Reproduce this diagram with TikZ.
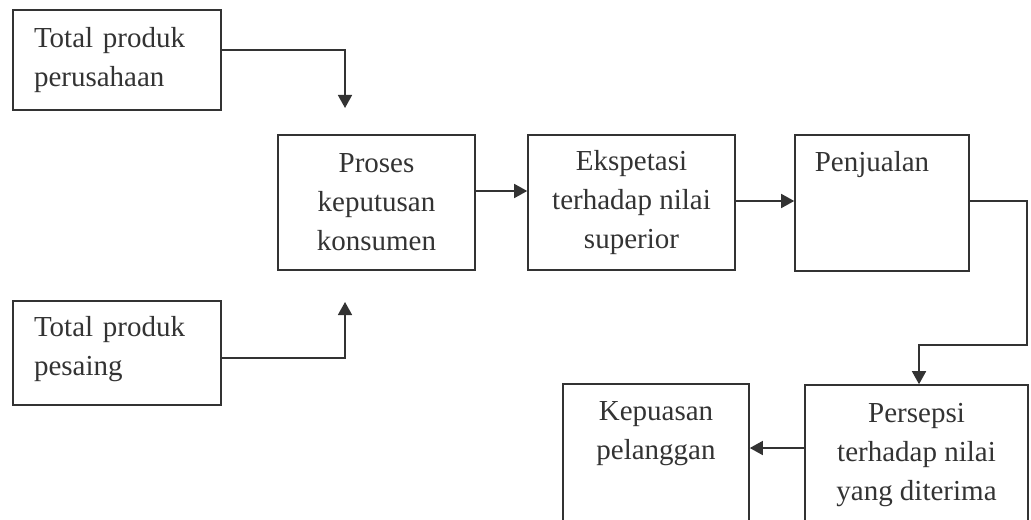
\documentclass[tikz,border=0pt]{standalone}
\usepackage{fontspec}
\setmainfont{Liberation Serif}
\usetikzlibrary{arrows.meta,calc}
\definecolor{ink}{HTML}{333333}
\begin{document}
\begin{tikzpicture}[x=0.5pt,y=-0.5pt,
  box/.style={draw=ink,line width=0.8pt,rectangle,inner sep=0pt},
  lbl/.style={text=ink,align=center,inner sep=0pt,font=\fontsize{14.5}{19.5}\selectfont},
  lbll/.style={lbl,align=left,text width=83pt},
  conn/.style={draw=ink,line width=0.8pt},
  arr/.style={conn,-{Triangle[length=6.5pt,width=7pt]}}]
\useasboundingbox (0,0) rectangle (1031,519);
\clip (0,0) rectangle (1031,519);
% boxes
\node[box,minimum width=104pt,minimum height=50pt] (tp1) at (117,60) {};
\node[lbll] (tp1t) at (117,60) {Total produk\\perusahaan};
\node[box,minimum width=104pt,minimum height=52pt] (tp2) at (117,353) {};
\node[lbll] (tp2t) at (117,349) {Total produk\\pesaing};
\node[box,minimum width=98.5pt,minimum height=67.5pt] (proses) at (376.5,202.5) {};
\node[lbl] (prosest) at (376.5,202.5) {Proses\\keputusan\\konsumen};
\node[box,minimum width=103.5pt,minimum height=67.5pt] (eksp) at (631.5,202.5) {};
\node[lbl] (ekspt) at (631.5,203) {Ekspetasi\\terhadap nilai\\superior};
\node[box,minimum width=87pt,minimum height=68pt] (penj) at (882,203) {};
\node[lbl] (penjt) at (872,165) {Penjualan};
\node[box,minimum width=111.5pt,minimum height=80pt] (pers) at (916.5,465) {};
\node[lbl] (perst) at (916.5,455) {Persepsi\\terhadap nilai\\yang diterima};
\node[box,minimum width=93pt,minimum height=80pt] (kep) at (656,464) {};
\node[lbl] (kept) at (656,434) {Kepuasan\\pelanggan};
% free ends
\coordinate (a1) at (345,108);
\coordinate (a2) at (345,302);
\coordinate (r1) at (1027,201);
\coordinate (r2) at (919,345);
% connectors
\draw[arr] (tp1.east |- 0,50) -| (a1);
\draw[arr] (tp2.east |- 0,358) -| (a2);
\draw[arr] (proses.east |- 0,191) -- (eksp.west |- 0,191);
\draw[arr] (eksp.east |- 0,201) -- (penj.west |- 0,201);
\draw[arr] (penj.east |- r1) -- (r1) |- (r2) -- (r2 |- pers.north);
\draw[arr] (pers.west |- 0,448) -- (kep.east |- 0,448);
\end{tikzpicture}
\end{document}
